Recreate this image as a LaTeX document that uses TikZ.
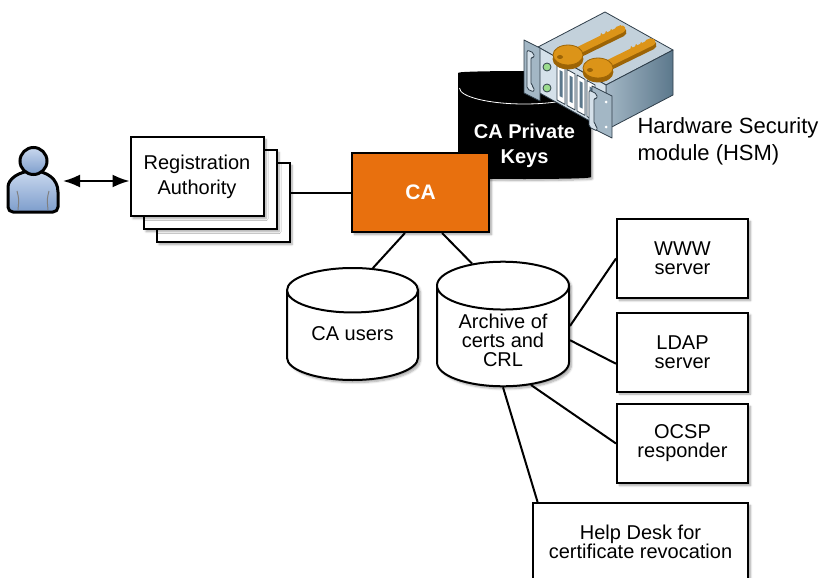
\documentclass[tikz,border=0pt]{standalone}
\usepackage{fontspec}
\setmainfont{Liberation Sans}
\usetikzlibrary{arrows.meta,positioning,calc,shapes.geometric,shadows.blur}
\definecolor{CAOrange}{HTML}{E8700E}
\definecolor{UserTop}{HTML}{C9D8EE}
\definecolor{UserBottom}{HTML}{7D9DCC}
\definecolor{KeyGold}{HTML}{DC9418}
\definecolor{KeyEdge}{HTML}{9C6406}
\definecolor{RackEdge}{HTML}{2F3E4A}
\definecolor{RackTop}{HTML}{C3D1DB}
\definecolor{RackFront}{HTML}{D5E1EA}
\definecolor{RackSideA}{HTML}{A3B7C5}
\definecolor{RackSideB}{HTML}{5C788C}
\definecolor{LedGreen}{HTML}{9BDC8E}

\begin{document}
\begin{tikzpicture}[
    x=1pt, y=-1pt,
    font=\fontsize{20}{19}\selectfont,
    softshadow/.style={blur shadow={shadow xshift=2.5pt, shadow yshift=-2.5pt,
      shadow blur steps=6, shadow opacity=35}},
    box/.style={draw, line width=2pt, fill=white, align=center, inner sep=2pt,
      minimum width=131pt, minimum height=79pt, softshadow},
    rabox/.style={box, minimum width=133pt,
      font=\fontsize{20}{25}\selectfont},
    store/.style={cylinder, shape border rotate=90, aspect=0.5, draw,
      anchor=shape center, line width=2pt, fill=white, align=center,
      minimum width=131pt, minimum height=112pt, softshadow},
    link/.style={line width=2pt},
    duplex/.style={<->, >={Latex[length=17pt,width=13pt]}, line width=2pt},
    rack/.style={draw=RackEdge, line width=0.8pt, line join=round}
  ]
  \useasboundingbox (0,0) rectangle (825,578);

  % user icon
  \draw[line width=3pt, line join=round, rounded corners=5pt,
        top color=UserTop, bottom color=UserBottom]
    (8,212) -- (8,192) [sharp corners] .. controls (8,179) and (19,171) .. (33,171)
    .. controls (47,171) and (58,179) .. (58,192) [rounded corners=5pt] -- (58,212) -- cycle;
  \draw[gray, line width=1pt] (17,191) .. controls (19,199) .. (18,210);
  \draw[gray, line width=1pt] (49,191) .. controls (47,199) .. (48,210);
  \draw[line width=3pt, top color=UserTop, bottom color=UserBottom]
    (33.5,161) circle[radius=13.5pt];
  \coordinate (user) at (63,181);

  % registration authorities, stacked
  \coordinate (rapos) at (197,176.5);
  \node[rabox] (ra3) at ([shift={(26,26)}]rapos) {};
  \node[rabox] (ra2) at ([shift={(13,13)}]rapos) {};
  \node[rabox] (ra1) at (rapos) {Registration\\Authority};
  \draw[duplex] (user) -- (user -| ra1.west);

  % key store behind the CA
  \node[store, fill=black, minimum height=106pt] (keys) at (524.5,125) {};
  \draw[white, line width=0.8pt] (459.5,88) arc[start angle=180, end angle=300,
        x radius=65pt, y radius=16pt];
  \node[text=white, align=center, font=\fontsize{20}{25}\selectfont\bfseries]
    (keystext) at (524.5,146) {CA Private\\Keys};

  % hardware security module
  \draw[rack, fill=RackTop] (538,47) -- (605,12) -- (673,50) -- (606,85) -- cycle;
  \shade[left color=RackSideA, right color=RackSideB]
    (606,85) -- (673,50) -- (673,95) -- (606,130) -- cycle;
  \draw[rack] (606,85) -- (673,50) -- (673,95) -- (606,130) -- cycle;
  \draw[rack, fill=RackFront] (538,47) -- (606,85) -- (606,130) -- (538,92) -- cycle;
  \draw[rack, fill=RackSideA] (524,40) -- (540,48) -- (540,101) -- (524,93) -- cycle;
  \draw[rack, fill=RackFront, rounded corners=2pt]
    (527,50) -- (534,53) -- (534,58) -- (531,57) -- (531,85) -- (534,87) -- (534,92) -- (527,89) -- cycle;
  \foreach \ly in {67,88}
    \draw[rack, fill=LedGreen] (547,\ly) circle[radius=4pt];
  \foreach \sx in {557,567,577,587} {
    \draw[rack, fill=white] (\sx,{64+0.55*(\sx-557)}) -- ++(8,4.4) -- ++(0,36) -- ++(-8,-4.4) -- cycle;
    \fill[RackSideB] (\sx+2.5,{70+0.55*(\sx-557)}) -- ++(3,1.6) -- ++(0,26) -- ++(-3,-1.6) -- cycle;
  }
  \draw[rack, fill=RackSideA] (592,86) -- (612,96) -- (612,138) -- (592,128) -- cycle;
  \draw[rack, fill=RackFront, rounded corners=2pt]
    (589,90) -- (597,94) -- (597,99) -- (594,98) -- (594,124) -- (597,126) -- (597,131) -- (589,127) -- cycle;
  \foreach \ly in {102,127}
    \fill[white] (606,\ly) circle[radius=1.5pt];

  % two keys lying on top of the module
  \foreach \dx/\dy in {0/0,30/13} {
    \begin{scope}[shift={(\dx,\dy)}]
      \draw[KeyEdge, line width=9pt, line cap=round] (575,55) -- (622,32);
      \draw[KeyEdge, line width=0.8pt, fill=KeyEdge] (568,59) ellipse[x radius=15pt, y radius=10pt];
      \draw[KeyGold, line width=7pt, line cap=round] (575,52) -- (622,29);
      \fill[KeyGold] (600,38) -- (601,33) -- (604,36) -- (606,31) -- (609,34)
        -- (611,29) -- (614,32) -- (616,27) -- (621,25) -- (622,31) -- cycle;
      \draw[KeyEdge, line width=0.8pt, fill=KeyGold] (568,55) ellipse[x radius=15pt, y radius=10pt];
      \fill[KeyEdge] (560,57) ellipse[x radius=3pt, y radius=2pt];
    \end{scope}
  }
  \node[anchor=west, align=left, font=\fontsize{22}{27}\selectfont]
    (hsmtext) at (634,141.5) {Hardware Security\\module (HSM)};

  % certification authority
  \node[box, fill=CAOrange, text=white, minimum width=137pt,
        font=\fontsize{21}{25}\selectfont\bfseries] (ca) at (420.5,192.5) {CA};
  \draw[link] (ra3.east |- ca.west) -- (ca.west);

  % repositories
  \node[store, text depth=12pt] (usr) at (352.5,324) {CA users};
  \node[store, minimum width=132pt] (arch) at (503,324) {Archive of\\certs and\\CRL};
  \draw[link] (ca.249) -- (usr.74);
  \draw[link] (ca.298) -- (arch.112);

  % services fed from the archive
  \node[box] (www) at (682.5,258.5) {WWW\\server};
  \node[box] (ldap) at (682.5,352) {LDAP\\server};
  \node[box] (ocsp) at (682.5,443.5) {OCSP\\responder};
  \node[box, minimum width=215pt, minimum height=77pt] (help) at (640.5,541.5)
    {Help Desk for\\certificate revocation};
  \draw[link] (arch.12) -- (www.west);
  \draw[link] (arch.0) -- (ldap.190);
  \draw[link] (arch.302) -- (ocsp.west);
  \draw[link] (arch.south) -- (help.159);
\end{tikzpicture}
\end{document}
